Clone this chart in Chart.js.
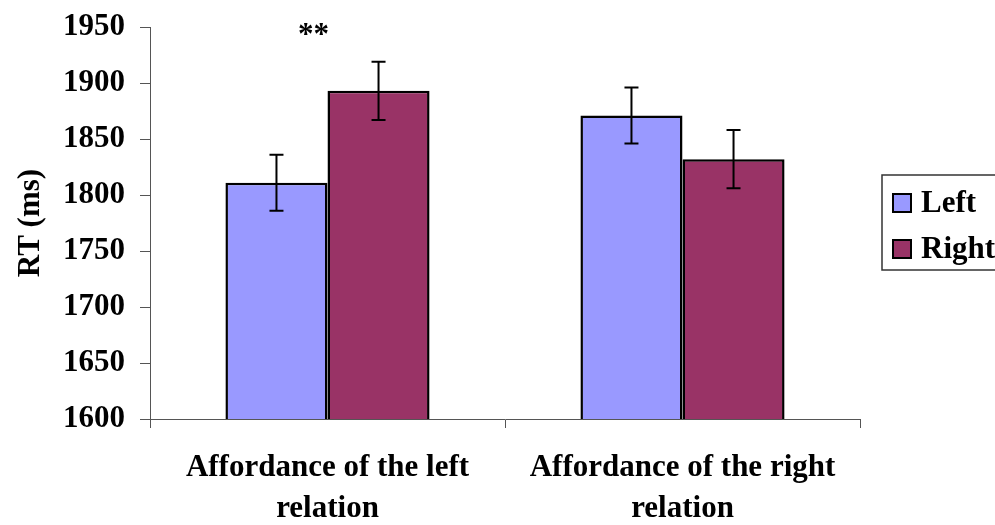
<!DOCTYPE html>
<html>
<head>
<meta charset="utf-8">
<script src="https://cdn.jsdelivr.net/npm/chart.js@4/dist/chart.umd.min.js"></script>
<style>
  html, body { margin: 0; padding: 0; background: #fff; }
  canvas { display: block; }
</style>
</head>
<body>
<canvas id="rtChart" width="995" height="525"></canvas>
<script>
// Data
const categories = [['Affordance of the left', 'relation'], ['Affordance of the right', 'relation']];
const seriesNames = ['Left', 'Right'];
const leftRT = [1811, 1871];
const rightRT = [1893, 1832];
const leftErr = [25, 25];
const rightErr = [26, 26];
const sigMarks = ['**', ''];
const yTicks = [1600, 1650, 1700, 1750, 1800, 1850, 1900, 1950];

const FONT = '"Liberation Serif", "Times New Roman", serif';
const FS = 31;

// error bars, significance stars and the boxed legend
const extrasPlugin = {
  id: 'extras',
  afterDatasetsDraw(chart) {
    const ctx = chart.ctx;
    const y = chart.scales.y;
    const errs = [leftErr, rightErr];
    ctx.save();
    ctx.strokeStyle = '#000';
    ctx.lineWidth = 2;
    chart.data.datasets.forEach((ds, i) => {
      chart.getDatasetMeta(i).data.forEach((bar, j) => {
        const hi = y.getPixelForValue(ds.data[j] + errs[i][j]);
        const lo = y.getPixelForValue(ds.data[j] - errs[i][j]);
        ctx.beginPath();
        ctx.moveTo(bar.x, hi); ctx.lineTo(bar.x, lo);
        ctx.moveTo(bar.x - 7, hi); ctx.lineTo(bar.x + 7, hi);
        ctx.moveTo(bar.x - 7, lo); ctx.lineTo(bar.x + 7, lo);
        ctx.stroke();
      });
    });

    // ** above the first group
    ctx.fillStyle = '#000';
    ctx.font = 'bold ' + FS + 'px ' + FONT;
    ctx.textAlign = 'center';
    ctx.textBaseline = 'middle';
    sigMarks.forEach((m, j) => {
      if (m) ctx.fillText(m, chart.scales.x.getPixelForValue(j) - 14, 36);
    });

    // legend box
    ctx.strokeStyle = '#333';
    ctx.lineWidth = 1.5;
    ctx.strokeRect(882, 175, 130, 95);
    ctx.textAlign = 'left';
    chart.data.datasets.forEach((ds, i) => {
      const cy = 203 + i * 46;
      ctx.fillStyle = ds.backgroundColor;
      ctx.fillRect(893, cy - 9, 18, 18);
      ctx.strokeStyle = '#000';
      ctx.lineWidth = 2;
      ctx.strokeRect(893, cy - 9, 18, 18);
      ctx.fillStyle = '#000';
      ctx.fillText(ds.label, 921, cy + 1);
    });
    ctx.restore();
  }
};

new Chart(document.getElementById('rtChart'), {
  type: 'bar',
  data: {
    labels: categories,
    datasets: [
      { label: seriesNames[0], data: leftRT, backgroundColor: '#9999FF', borderColor: '#000', borderWidth: 2.5 },
      { label: seriesNames[1], data: rightRT, backgroundColor: '#993366', borderColor: '#000', borderWidth: 2.5 }
    ]
  },
  options: {
    responsive: false,
    animation: false,
    layout: { padding: { top: 27, right: 135, left: 0, bottom: 0 } },
    datasets: { bar: { categoryPercentage: 0.575, barPercentage: 1 } },
    plugins: { legend: { display: false }, tooltip: { enabled: false } },
    scales: {
      x: {
        afterFit(s) { s.height = 106; s.paddingLeft = 0; s.paddingRight = 0; },
        grid: { drawOnChartArea: false, tickLength: 9, color: '#555', offset: true },
        border: { color: '#555', width: 1 },
        ticks: {
          color: '#000', padding: 20,
          font: { family: FONT, size: FS, weight: 'bold', lineHeight: 1.32 }
        }
      },
      y: {
        min: yTicks[0],
        max: yTicks[yTicks.length - 1],
        afterFit(s) { s.width = 150; s.paddingTop = 0; s.paddingBottom = 0; },
        afterBuildTicks(s) { s.ticks = yTicks.map(v => ({ value: v })); },
        grid: { drawOnChartArea: false, tickLength: 10, color: '#555' },
        border: { color: '#555', width: 1 },
        ticks: {
          color: '#000', padding: 15,
          callback: v => String(v),
          font: { family: FONT, size: FS, weight: 'bold' }
        },
        title: {
          display: true, text: 'RT (ms)', color: '#000', padding: { top: 12, bottom: 0 },
          font: { family: FONT, size: FS, weight: 'bold' }
        }
      }
    }
  },
  plugins: [extrasPlugin]
});
</script>
</body>
</html>
